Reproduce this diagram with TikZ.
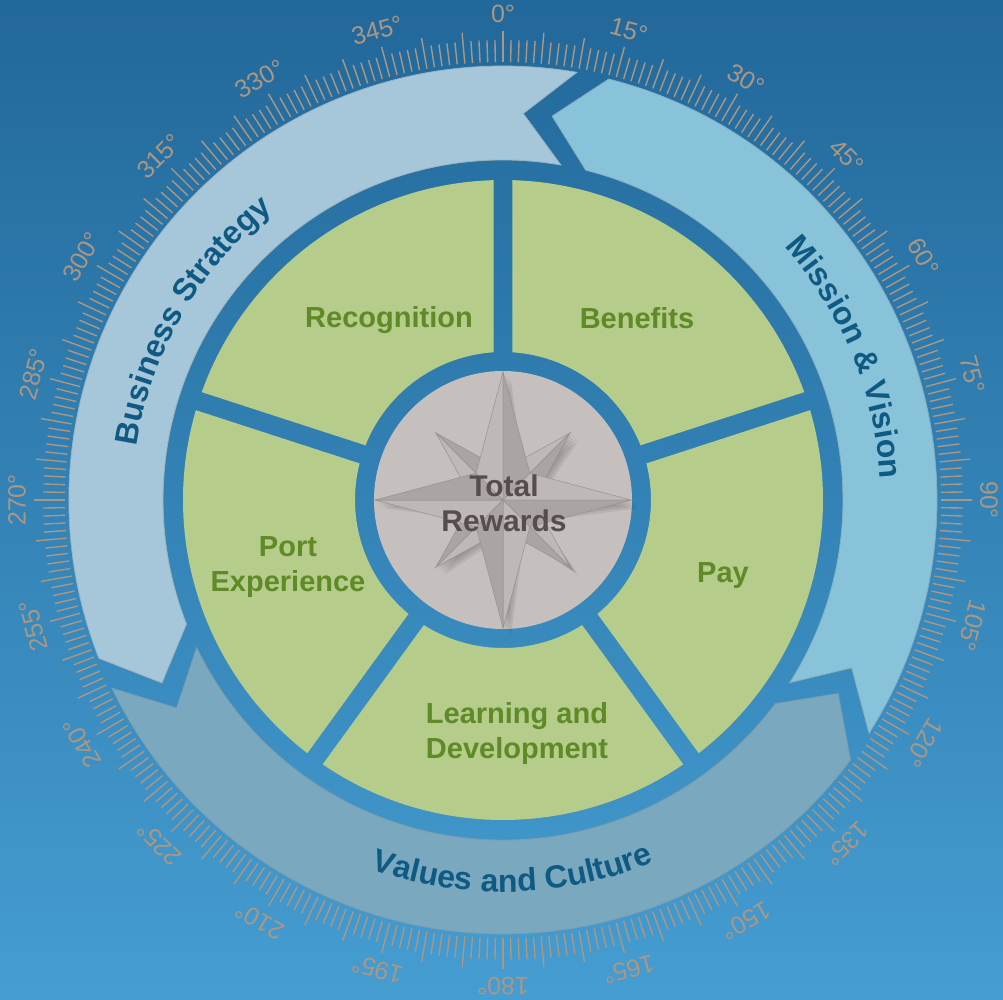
\documentclass[tikz,border=0pt]{standalone}
\usepackage{fontspec}
\setmainfont{Liberation Sans}
\usetikzlibrary{decorations.text}

\definecolor{bgtop}{HTML}{22689A}
\definecolor{bgbottom}{HTML}{459DD1}
\definecolor{stratfill}{HTML}{A6C7DA}
\definecolor{missionfill}{HTML}{88C3DA}
\definecolor{valuesfill}{HTML}{79A8BF}
\definecolor{segfill}{HTML}{B5CC8B}
\definecolor{segtext}{HTML}{5E8A27}
\definecolor{arrowtext}{HTML}{0F5A82}
\definecolor{dialgray}{HTML}{AA9784}
\definecolor{rosebg}{HTML}{C5BFBE}
\definecolor{roselight}{HTML}{BEB8B7}
\definecolor{rosedark}{HTML}{AAA4A3}
\definecolor{roseedge}{HTML}{99928F}
\definecolor{rewardtext}{HTML}{574D4D}

% font used on the curved arrow captions
\newcommand{\arrowfont}{\fontsize{32}{32}\selectfont\bfseries\color{arrowtext}}

% one arrow of the outer ring: #1 = pointed end, #2 = notched end (dial degrees), #3 = fill
\newcommand{\ringarrow}[3]{%
  \fill[#3, draw=#3!70!gray, line width=0.8pt]
    ({90-#1}:434) arc[start angle={90-#1}, end angle={90-#2}, radius=434]
    -- ({90-#2+6.8}:387) -- ({90-#2}:340)
    arc[start angle={90-#2}, end angle={90-#1}, radius=340]
    -- ({90-#1+6.8}:387) -- cycle;}

\tikzset{
  dialtick/.style={dialgray, line width=1.4pt},
  dial label/.style={text=dialgray, font=\fontsize{25}{25}\selectfont, inner sep=0pt},
  seglabel/.style={text=segtext, font=\fontsize{29}{35}\selectfont\bfseries, align=center, inner sep=0pt},
}

\begin{document}
\begin{tikzpicture}[x=1pt,y=1pt]
		\useasboundingbox (-503,-499) rectangle (500,500);
		\shade[top color=bgtop, bottom color=bgbottom] (-503,-499) rectangle (500,500);

		% dial ticks and degree labels
		\foreach \a in {0,...,359} {
			\pgfmathsetmacro\tl{ifthenelse(mod(\a,5)==0,469,460)}
			\draw[dialtick] ({90-\a}:438) -- ({90-\a}:\tl);
		}
		\foreach \a in {0,15,...,345}
			\node[dial label, rotate=-\a] (deg\a) at ({90-\a}:486) {\a°};

		% outer ring of arrows
		\ringarrow{248.6}{369.8}{stratfill}
		\ringarrow{14.1}{122.5}{missionfill}
		\ringarrow{126.8}{244.3}{valuesfill}

		\path[decorate, decoration={text along path, text align=center,
			text={|\arrowfont|Business Strategy}}]
			(180:370) arc[start angle=180, end angle=120, radius=370];
		\path[decorate, decoration={text along path, text align=center,
			text={|\arrowfont|Mission {\&} Vision}}]
			(52.6:378) arc[start angle=52.6, end angle=-7.4, radius=378];
		\path[decorate, decoration={text along path, text align=center,
			text={|\arrowfont|Values and Culture}}]
			(-118.5:392) arc[start angle=-118.5, end angle=-58.5, radius=392];

		% five green segments, split by spokes
		\pgfmathsetmacro\din{asin(9.5/148)}
		\pgfmathsetmacro\dout{asin(9.5/320)}
		\foreach \a in {90,18,-54,-126,-198} {
			\fill[segfill] ({\a-\dout}:320) arc[start angle={\a-\dout}, end angle={\a-72+\dout}, radius=320]
				-- ({\a-72+\din}:148) arc[start angle={\a-72+\din}, end angle={\a-\din}, radius=148] -- cycle;
		}

		\node[seglabel] (recognition) at (-114,179.5) {Recognition};
		\node[seglabel] (benefits) at (134,182) {Benefits};
		\node[seglabel] (pay) at (220,-76) {Pay};
		\node[seglabel] (learning) at (14,-233) {Learning and\\Development};
		\node[seglabel] (port) at (-215,-67) {Port\\Experience};

		% compass rose in the hub
		\fill[rosebg] (0,0) circle[radius=129];
		\foreach \s in {2,4,6,8}
			\fill[black, opacity=0.07, shift={(\s,-\s)}] (90:128)
				\foreach \k in {1,...,15} { -- ({90-22.5*\k}:{ifthenelse(mod(\k,2)==1,34,ifthenelse(mod(\k,4)==0,128,95))}) } -- cycle;
		\foreach \k in {45,135,225,315} {
			\fill[roselight, draw=roseedge, line width=0.5pt] (0,0) -- (\k:95) -- (\k+45:30) -- cycle;
			\fill[rosedark, draw=roseedge, line width=0.5pt] (0,0) -- (\k:95) -- (\k-45:30) -- cycle;
		}
		\foreach \k in {0,90,180,270} {
			\fill[roselight, draw=roseedge, line width=0.5pt] (0,0) -- (\k:128) -- (\k+45:38) -- cycle;
			\fill[rosedark, draw=roseedge, line width=0.5pt] (0,0) -- (\k:128) -- (\k-45:38) -- cycle;
		}

		\node[seglabel, text=rewardtext, font=\fontsize{30}{35}\selectfont\bfseries] (total) at (1,-3.5) {Total\\Rewards};
\end{tikzpicture}
\end{document}
